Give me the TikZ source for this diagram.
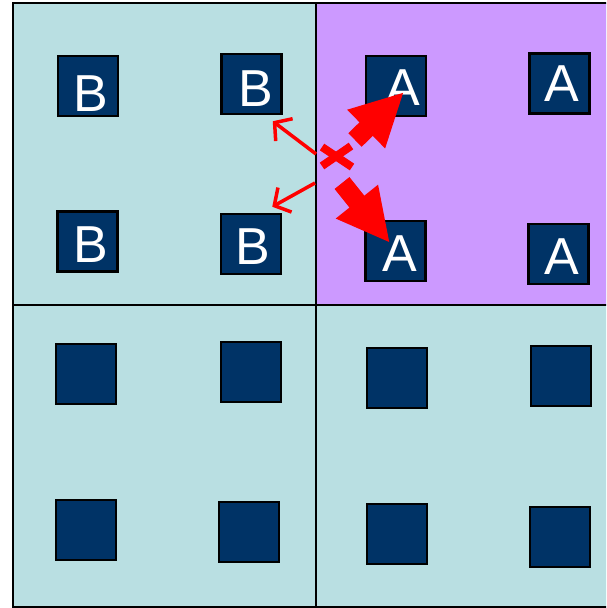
\documentclass[tikz,border=0pt]{standalone}
\usepackage{fontspec}
\setmainfont{Liberation Sans}
\usetikzlibrary{arrows.meta}
\definecolor{cellteal}{HTML}{B9DFE2}
\definecolor{cellpurple}{HTML}{CC99FF}
\definecolor{navy}{HTML}{003366}
\definecolor{redd}{HTML}{FF0000}
\newcommand{\shl}[2]{\hspace*{#1pt}#2}
\begin{document}
\begin{tikzpicture}[x=1pt,y=-1pt,
  sq/.style={draw=black,line width=2.5pt,fill=navy,minimum size=60pt,inner sep=0pt,text=white,
    font=\fontsize{52}{52}\selectfont,text height=37pt,text depth=0pt},
  thinarr/.style={draw=redd,line width=3.5pt,-{Straight Barb[length=12pt,width=28pt,line width=3.5pt]}},
  thickarr/.style={draw=redd,line width=19pt,-{Triangle[length=53pt,width=50pt]}},
  cell/.style={draw=black,line width=2.5pt}]
\useasboundingbox (0,0) rectangle (606,608);
\clip (0,0) rectangle (606,608);
\fill[white] (0,0) rectangle (606,608);
\fill[cellteal] (13,3) rectangle (625,607);
\fill[cellpurple] (316,3) rectangle (625,305);
\draw[cell] (13,3) rectangle (625,607);
\draw[cell] (316,3) -- (316,607);
\draw[cell] (13,305) -- (625,305);
% row 1
\node[sq,text height=51pt] (b1) at (88,86) {\shl{6}{B}};
\node[sq,text height=45pt] (b2) at (251.5,84) {\shl{9}{B}};
\node[sq,text height=39pt] (a1) at (396,86) {\shl{13}{A}};
\node[sq,text height=36pt] (a2) at (559.5,83.5) {\shl{5}{A}};
% row 2
\node[sq,text height=42pt] (b3) at (87.5,241.5) {\shl{7}{B}};
\node[sq,text height=41pt] (b4) at (251,244) {\shl{4}{B}};
\node[sq,text height=40pt] (a3) at (395.5,251) {\shl{8}{A}};
\node[sq,text height=41pt] (a4) at (558.5,254) {\shl{7}{A}};
% row 3
\node[sq] (e1) at (86,374) {};
\node[sq] (e2) at (251,372) {};
\node[sq] (e3) at (397,378) {};
\node[sq] (e4) at (561,376) {};
% row 4
\node[sq] (e5) at (86,530) {};
\node[sq] (e6) at (249,532) {};
\node[sq] (e7) at (397,534) {};
\node[sq] (e8) at (560,537) {};
% cross
\coordinate (x1) at (322,147);
\coordinate (x2) at (352,167);
\coordinate (x3) at (322,166);
\coordinate (x4) at (351,146);
\draw[redd,line width=8pt] (x1) -- (x2);
\draw[redd,line width=8pt] (x3) -- (x4);
% thin arrows
\coordinate (t1) at (316,154);
\coordinate (t2) at (315,183);
\draw[thinarr] (t1) -- ([shift={(-10pt,-6pt)}]b2.south east);
\draw[thinarr] (t2) -- ([shift={(-10pt,6pt)}]b4.north east);
% thick arrows
\coordinate (s1) at (355,140);
\coordinate (s2) at (342,183);
\coordinate (h1) at (404,92);
\coordinate (h2) at (390,243);
\draw[thickarr] (s1) -- (h1);
\draw[thickarr] (s2) -- (h2);
\end{tikzpicture}
\end{document}
